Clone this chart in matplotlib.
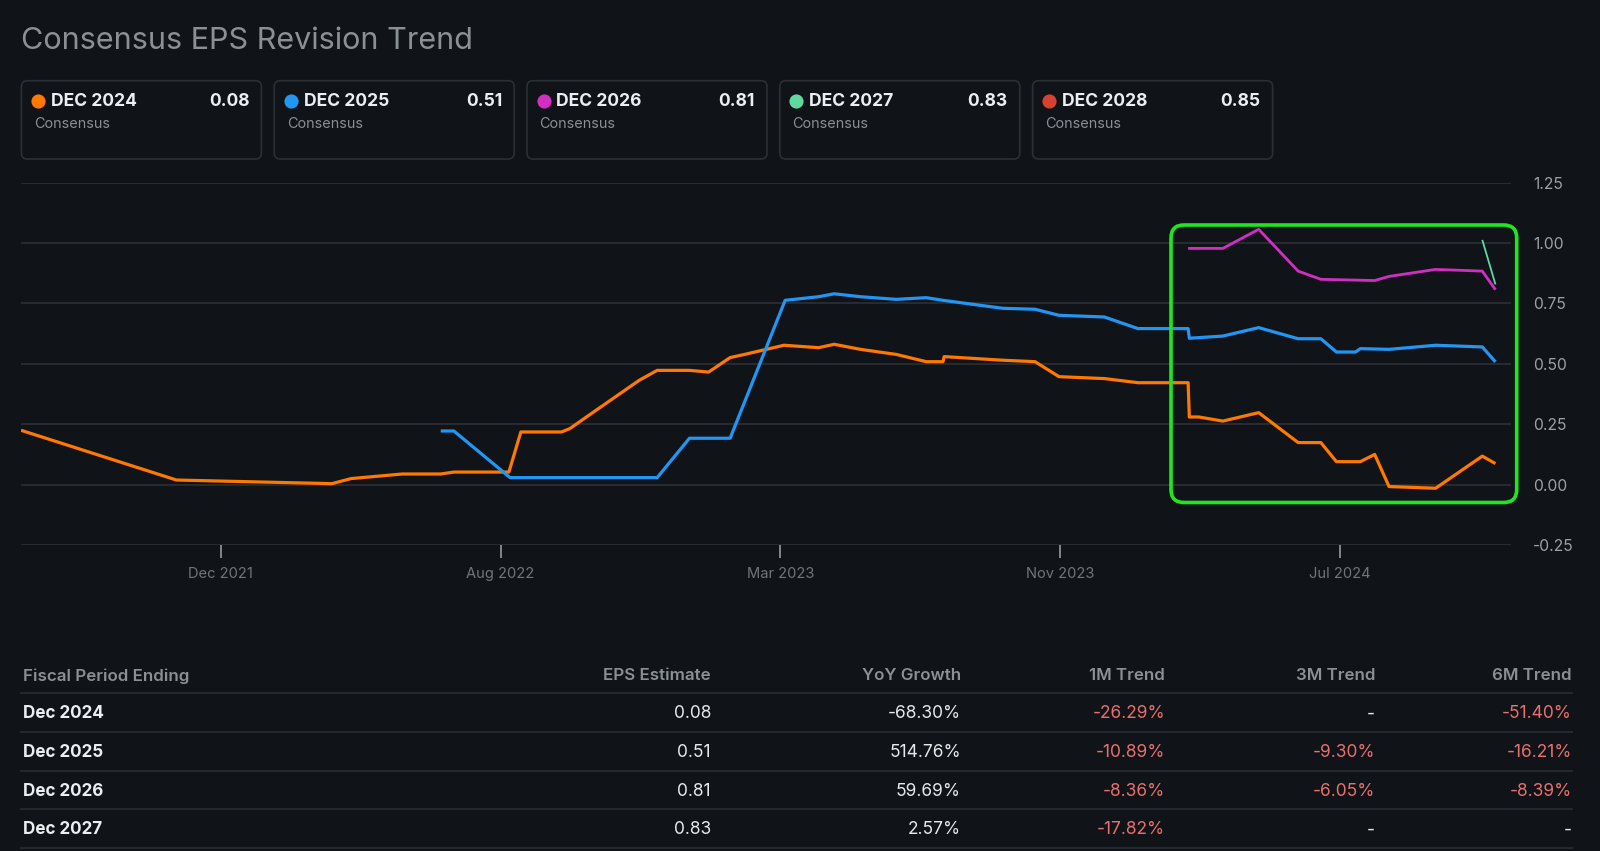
import matplotlib
matplotlib.use("Agg")
import matplotlib.pyplot as plt
import pandas as pd
from matplotlib.patches import FancyBboxPatch
from matplotlib.transforms import IdentityTransform
from matplotlib.lines import Line2D

# ---------------- data ----------------
title_text = "Consensus EPS Revision Trend"

legend_labels = ["DEC 2024", "DEC 2025", "DEC 2026", "DEC 2027", "DEC 2028"]
legend_values = ["0.08", "0.51", "0.81", "0.83", "0.85"]
legend_sub = "Consensus"

dec2024_dates = ["2021-06-26", "2021-11-03", "2022-03-13", "2022-03-29", "2022-05-11",
                 "2022-06-12", "2022-06-23", "2022-08-08", "2022-08-18", "2022-09-21",
                 "2022-09-28", "2022-10-13", "2022-11-25", "2022-12-10", "2023-01-06",
                 "2023-01-22", "2023-02-09", "2023-02-21", "2023-03-26", "2023-04-24",
                 "2023-05-07", "2023-05-29", "2023-06-28", "2023-07-23", "2023-08-06",
                 "2023-08-07", "2023-09-25", "2023-10-22", "2023-11-11", "2023-12-19",
                 "2024-01-16", "2024-02-27", "2024-02-28", "2024-03-07", "2024-03-27",
                 "2024-04-26", "2024-05-29", "2024-06-17", "2024-06-30", "2024-07-20",
                 "2024-08-01", "2024-08-13", "2024-09-21", "2024-10-30", "2024-11-10"]
dec2024_eps = [0.225, 0.019, 0.004, 0.025, 0.044,
               0.044, 0.052, 0.052, 0.218, 0.218,
               0.232, 0.284, 0.432, 0.473, 0.473,
               0.466, 0.526, 0.539, 0.577, 0.567,
               0.581, 0.560, 0.539, 0.509, 0.509,
               0.530, 0.515, 0.509, 0.447, 0.439,
               0.422, 0.422, 0.280, 0.280, 0.263,
               0.298, 0.174, 0.174, 0.095, 0.095,
               0.125, -0.008, -0.015, 0.118, 0.087]

dec2025_dates = ["2022-06-12", "2022-06-23", "2022-08-09", "2022-12-10", "2023-01-06",
                 "2023-02-09", "2023-03-27", "2023-04-24", "2023-05-07", "2023-05-29",
                 "2023-06-28", "2023-07-23", "2023-08-06", "2023-09-25", "2023-10-22",
                 "2023-11-11", "2023-12-19", "2024-01-16", "2024-02-27", "2024-02-28",
                 "2024-03-27", "2024-04-26", "2024-05-29", "2024-06-17", "2024-06-30",
                 "2024-07-16", "2024-07-20", "2024-08-13", "2024-09-21", "2024-10-30",
                 "2024-11-10"]
dec2025_eps = [0.222, 0.222, 0.029, 0.029, 0.192,
               0.192, 0.763, 0.778, 0.790, 0.778,
               0.767, 0.774, 0.763, 0.730, 0.726,
               0.701, 0.694, 0.646, 0.646, 0.606,
               0.615, 0.650, 0.604, 0.604, 0.549,
               0.549, 0.563, 0.560, 0.577, 0.570,
               0.508]

dec2026_dates = ["2024-02-27", "2024-03-27", "2024-04-26", "2024-05-29", "2024-06-17",
                 "2024-08-01", "2024-08-13", "2024-09-21", "2024-10-30", "2024-11-10"]
dec2026_eps = [0.978, 0.978, 1.057, 0.884, 0.850,
               0.845, 0.862, 0.891, 0.884, 0.807]

dec2027_dates = ["2024-10-30", "2024-11-10"]
dec2027_eps = [1.013, 0.829]

y_ticks = [-0.25, 0.00, 0.25, 0.50, 0.75, 1.00, 1.25]
x_tick_dates = ["2021-12-10", "2022-08-01", "2023-03-23", "2023-11-12", "2024-07-03"]
x_tick_labels = ["Dec 2021", "Aug 2022", "Mar 2023", "Nov 2023", "Jul 2024"]
x_limits = ["2021-06-26", "2024-11-23"]

table_header = ["Fiscal Period Ending", "EPS Estimate", "YoY Growth", "1M Trend", "3M Trend", "6M Trend"]
table_periods = ["Dec 2024", "Dec 2025", "Dec 2026", "Dec 2027"]
table_eps = ["0.08", "0.51", "0.81", "0.83"]
table_yoy = ["-68.30%", "514.76%", "59.69%", "2.57%"]
table_1m = ["-26.29%", "-10.89%", "-8.36%", "-17.82%"]
table_3m = ["-", "-9.30%", "-6.05%", "-"]
table_6m = ["-51.40%", "-16.21%", "-8.39%", "-"]

# ---------------- style ----------------
W, H = 1600, 851
BG = "#101418"
GRID = "#2a2e33"
C_ORANGE = "#ff7800"
C_BLUE = "#2196f3"
C_MAGENTA = "#d12fc3"
C_GREEN = "#5fd9a0"
C_RED = "#d9412f"
series_colors = [C_ORANGE, C_BLUE, C_MAGENTA, C_GREEN, C_RED]
FONT = ["Inter", "DejaVu Sans"]
plt.rcParams["font.family"] = FONT

fig = plt.figure(figsize=(W / 100, H / 100), dpi=100, facecolor=BG)
ident = IdentityTransform()


def fx(px):
    return px / W


def fy(py):
    return 1 - py / H


def ftext(px, py, s, **kw):
    fig.text(fx(px), fy(py), s, **kw)


# title
ftext(21, 49, title_text, fontsize=22, color="#8a9095", va="baseline", ha="left")

# legend boxes
for i, (lab, val, col) in enumerate(zip(legend_labels, legend_values, series_colors)):
    x0 = 21.4 + i * 252.8
    box = FancyBboxPatch((x0, H - 159), 240, 78.3,
                         boxstyle="round,pad=0,rounding_size=6",
                         transform=ident, facecolor=BG, edgecolor="#2c3035", linewidth=1.2)
    fig.patches.append(box)
    fig.add_artist(Line2D([fx(x0 + 16.5)], [fy(100.5)], marker="o", markersize=10.2,
                          color=col, markeredgewidth=0, transform=fig.transFigure))
    ftext(x0 + 29.5, 106.3, lab, fontsize=12.6, fontweight="bold", color="#eceff1",
          va="baseline", ha="left")
    ftext(x0 + 228, 106.3, val, fontsize=12.6, fontweight="bold", color="#eceff1",
          va="baseline", ha="right")
    ftext(x0 + 12.5, 128.5, legend_sub, fontsize=10.4, color="#8a8f94",
          va="baseline", ha="left")

# chart axes
ax = fig.add_axes([fx(21), fy(545), (1511 - 21) / W, (545 - 182.7) / H])
ax.set_facecolor(BG)
for sp in ax.spines.values():
    sp.set_visible(False)

series = [(dec2024_dates, dec2024_eps, C_ORANGE, 2.3),
          (dec2025_dates, dec2025_eps, C_BLUE, 2.3),
          (dec2026_dates, dec2026_eps, C_MAGENTA, 2.0),
          (dec2027_dates, dec2027_eps, C_GREEN, 1.3)]
for dts, vals, col, lw in series:
    ax.plot(pd.to_datetime(dts), vals, color=col, linewidth=lw,
            solid_joinstyle="round", solid_capstyle="butt", zorder=3)

ax.set_ylim(y_ticks[0], y_ticks[-1])
ax.set_yticks(y_ticks)
ax.set_yticklabels([f"{v:.2f}" for v in y_ticks])
ax.yaxis.tick_right()
ax.tick_params(axis="y", length=0, pad=15.8, labelsize=11.3, labelcolor="#9ba1a6")
ax.grid(axis="y", color=GRID, linewidth=1.3, zorder=0)

ax.set_xlim(pd.to_datetime(x_limits[0]), pd.to_datetime(x_limits[1]))
ax.set_xticks(pd.to_datetime(x_tick_dates))
ax.set_xticklabels(x_tick_labels)
ax.tick_params(axis="x", length=9, width=1.3, color="#8a8f94", pad=7,
               labelsize=10.6, labelcolor="#6f757a")

# highlight box
hl = FancyBboxPatch((1171, H - 502.5), 1516.7 - 1171, 502.5 - 225,
                    boxstyle="round,pad=0,rounding_size=13",
                    transform=ident, facecolor="none", edgecolor="#1fe61f", linewidth=2.6,
                    zorder=10)
fig.patches.append(hl)

# table
TFS = 12.5
col_x = [23, 711, 961, 1165, 1375, 1572]
col_ha = ["left", "right", "right", "right", "right", "right"]
for cx, ha, h in zip(col_x, col_ha, table_header):
    ftext(cx, 676, h, fontsize=TFS - 0.3, fontweight="semibold", color="#8a9095",
          va="center", ha=ha)

row_y = [714, 752.7, 791.7, 830]
for r, y in enumerate(row_y):
    cells = [table_periods[r], table_eps[r], table_yoy[r], table_1m[r], table_3m[r], table_6m[r]]
    for c, (cx, ha, s) in enumerate(zip(col_x, col_ha, cells)):
        if c == 0:
            ftext(cx, y, s, fontsize=TFS - 0.2, fontweight="bold", color="#eceff1",
                  va="center", ha=ha)
        elif c >= 3 and s != "-":
            ftext(cx, y, s, fontsize=TFS, color="#e8706e", va="center", ha=ha)
        else:
            ftext(cx, y, s, fontsize=TFS, color="#e6e8ea", va="center", ha=ha)

for ly in [693.3, 732.3, 770.7, 809.3, 847.7]:
    fig.add_artist(Line2D([fx(21), fx(1572)], [fy(ly), fy(ly)], color="#25292e",
                          linewidth=1.5, transform=fig.transFigure))

fig.savefig("out.png", dpi=100, facecolor=BG)
